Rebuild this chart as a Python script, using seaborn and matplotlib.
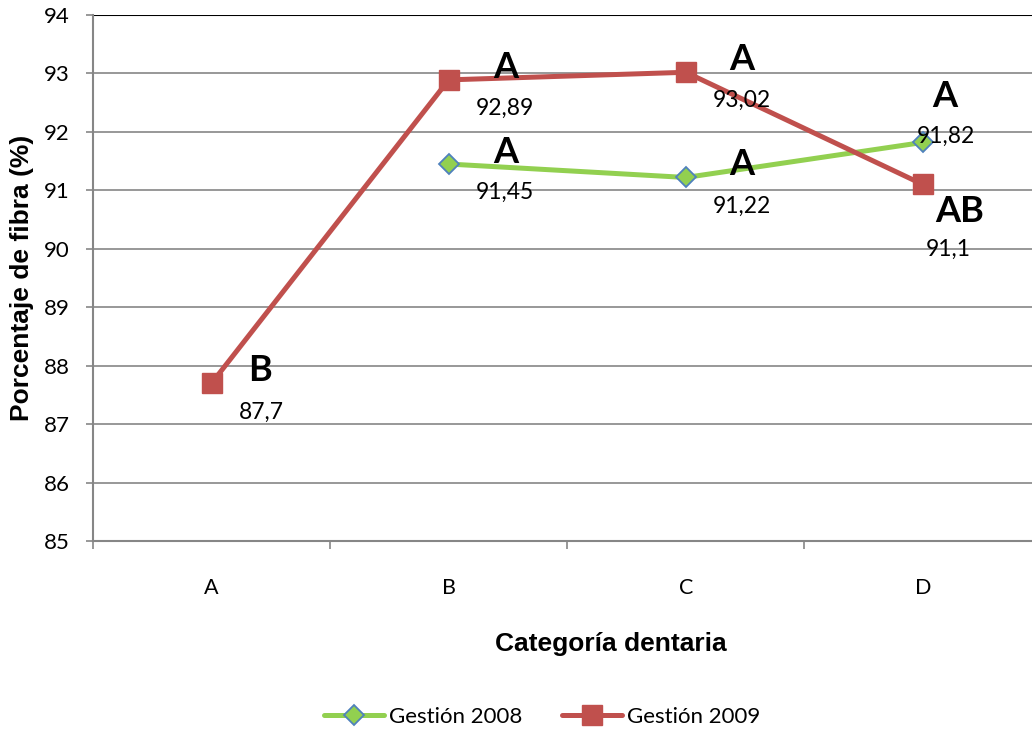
import matplotlib.pyplot as plt
import seaborn as sns
import pandas as pd
import numpy as np

# data
categorias = ['A', 'B', 'C', 'D']
gestion_2008 = [np.nan, 91.45, 91.22, 91.82]
gestion_2009 = [87.7, 92.89, 93.02, 91.1]
letras_2008 = [None, 'A', 'A', 'A']
letras_2009 = ['B', 'A', 'A', 'AB']

# label offsets in pixels (letter, value) relative to each point
off_2008 = [None, ((57, 12), (56, -28)), ((56, 13), (56, -29)), ((22, 46), (23, 6))]
off_2009 = [((48, 13), (50, -29)), ((57, 12), (56, -28)), ((56, 13), (56, -28)), ((37, -27), (25, -65))]

sns.set_style('white')
plt.rcParams['font.family'] = ['Lato', 'DejaVu Sans']
plt.rcParams['text.color'] = 'black'
plt.rcParams['xtick.color'] = 'black'
plt.rcParams['ytick.color'] = 'black'
plt.rcParams['axes.labelcolor'] = 'black'

pos = np.arange(len(categorias))
df08 = pd.DataFrame({'pos': pos, 'valor': gestion_2008}).dropna()
df09 = pd.DataFrame({'pos': pos, 'valor': gestion_2009})

fig = plt.figure(figsize=(10.32, 7.29), dpi=100)
ax = fig.add_axes([93 / 1032, 1 - 541 / 729, 948.5 / 1032, 526 / 729])

sns.lineplot(data=df08, x='pos', y='valor', ax=ax, color='#92D050', linewidth=3.6,
             marker='D', markersize=10, markerfacecolor='#92D050', markeredgecolor='#4F81BD',
             markeredgewidth=1.3, label='Gestión 2008', zorder=3)
sns.lineplot(data=df09, x='pos', y='valor', ax=ax, color='#C0504D', linewidth=3.6,
             marker='s', markersize=15, markerfacecolor='#C0504D', markeredgecolor='#C0504D',
             markeredgewidth=1, label='Gestión 2009', zorder=4)

# letters and values next to the points
for valores, letras, offs in [(gestion_2008, letras_2008, off_2008), (gestion_2009, letras_2009, off_2009)]:
    for i, (v, l, o) in enumerate(zip(valores, letras, offs)):
        if l is None or np.isnan(v):
            continue
        ax.annotate(l, (pos[i], v), xytext=o[0], textcoords='offset pixels',
                    ha='center', va='center', fontsize=26, fontweight='bold', zorder=6)
        ax.annotate(f'{v:g}'.replace('.', ','), (pos[i], v), xytext=o[1], textcoords='offset pixels',
                    ha='center', va='center', fontsize=16.5, zorder=6)

ax.set_xlim(-0.5, len(categorias) - 0.5)
ax.set_ylim(85, 94)
ax.set_yticks(np.arange(85, 95, 1))
ax.set_xticks(pos)
ax.set_xticklabels(categorias)
ax.set_xticks(np.arange(-0.5, len(categorias), 1), minor=True)
ax.tick_params(axis='x', which='major', bottom=True, length=0, pad=27, labelsize=15.5)
ax.tick_params(axis='x', which='minor', bottom=True, length=6, width=1.2, color='#868686', direction='out')
ax.tick_params(axis='y', left=True, length=5, width=1.2, color='#868686', direction='out', pad=12,
               labelsize=16, labelcolor='black')

ax.grid(axis='y', color='#868686', linewidth=1.2)
ax.axhline(94, color='black', linewidth=1.5, zorder=2)
for side in ['top', 'right']:
    ax.spines[side].set_visible(False)
for side in ['left', 'bottom']:
    ax.spines[side].set_color('#868686')
    ax.spines[side].set_linewidth(1.5)

ax.set_xlabel('Categoría dentaria', fontsize=19, fontweight='bold', family='Liberation Sans')
ax.xaxis.set_label_coords((611 - 93) / 948.5, -0.173)
ax.set_ylabel('Porcentaje de fibra (%)', fontsize=19, fontweight='bold', family='Liberation Sans')
ax.yaxis.set_label_coords(-0.062, 0.5)

ax.legend(loc='center', bbox_to_anchor=(542 / 1032, 1 - 717 / 729), bbox_transform=fig.transFigure,
          ncol=2, frameon=False, fontsize=16, handlelength=2.7, columnspacing=1.8, handletextpad=0.2)

plt.savefig('out.png', dpi=100)
